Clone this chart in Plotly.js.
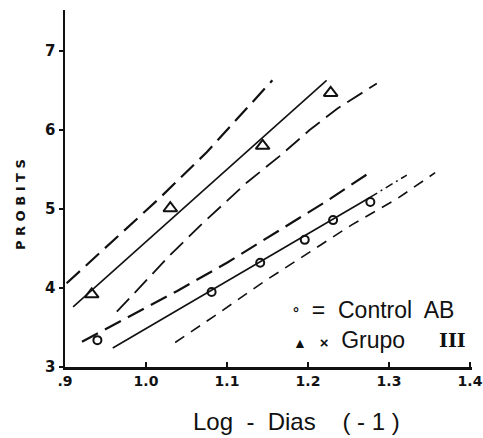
<!DOCTYPE html>
<html><head><meta charset="utf-8">
<script src="https://cdn.plot.ly/plotly-3.0.1.min.js"></script>
<style>html,body{margin:0;padding:0;background:#fff}#chart{width:483px;height:438px}</style>
</head><body><div id="chart"></div>
<script>
// Data points
const grupoX = [0.933, 1.030, 1.144, 1.228];
const grupoY = [3.92, 5.01, 5.80, 6.47];
const controlX = [0.940, 1.081, 1.141, 1.196, 1.231, 1.277];
const controlY = [3.34, 3.95, 4.32, 4.61, 4.86, 5.09];

// Grupo III fitted line and confidence limits
const grupoFitX = [0.910, 1.223];
const grupoFitY = [3.76, 6.63];
const grupoUpX = [0.902, 0.965, 1.017, 1.075, 1.116, 1.156];
const grupoUpY = [4.06, 4.65, 5.14, 5.72, 6.18, 6.63];
const grupoLoX = [0.964, 1.030, 1.070, 1.125, 1.165, 1.202, 1.236, 1.285];
const grupoLoY = [3.70, 4.42, 4.82, 5.34, 5.67, 6.00, 6.27, 6.59];

// Control AB fitted line and confidence limits
const controlFitX = [0.959, 1.277];
const controlFitY = [3.24, 5.15];
const controlExtX = [1.277, 1.322];
const controlExtY = [5.15, 5.43];
const controlUpX = [0.921, 0.993, 1.038, 1.100, 1.162, 1.223, 1.273];
const controlUpY = [3.32, 3.71, 3.96, 4.32, 4.71, 5.10, 5.44];
const controlLoX = [1.036, 1.088, 1.144, 1.200, 1.254, 1.310, 1.357];
const controlLoY = [3.31, 3.67, 4.07, 4.44, 4.80, 5.13, 5.46];

// Tick labels
const xTickVals = [0.9, 1.0, 1.1, 1.2, 1.3, 1.4];
const xTickText = ['.9', '1.0', '1.1', '1.2', '1.3', '1.4'];
const yTickVals = [3, 4, 5, 6, 7];
const yTickText = ['3', '4', '5', '6', '7'];

const black = '#111';
const longDash = '18px,8px';
const shortDash = '11px,8px';

function ln(x, y, dash, w) {
  return {x: x, y: y, mode: 'lines', type: 'scatter', hoverinfo: 'skip',
    line: {color: black, width: w || 1.8, dash: dash || 'solid'},
    showlegend: false};
}

const traces = [
  ln(grupoFitX, grupoFitY, 'solid', 1.6),
  ln(grupoUpX, grupoUpY, longDash, 2.2),
  ln(grupoLoX, grupoLoY, longDash, 1.8),
  ln(controlFitX, controlFitY, 'solid', 1.6),
  ln(controlExtX, controlExtY, '8px,4px,2px,4px', 1.5),
  ln(controlUpX, controlUpY, longDash, 2.2),
  ln(controlLoX, controlLoY, shortDash, 1.6),
  {x: grupoX, y: grupoY, mode: 'markers', type: 'scatter', name: 'Grupo III', showlegend: false,
    marker: {symbol: 'triangle-up-open', size: 12, color: black, line: {width: 2, color: black}}},
  {x: controlX, y: controlY, mode: 'markers', type: 'scatter', name: 'Control AB', showlegend: false,
    marker: {symbol: 'circle-open', size: 8, color: black, line: {width: 2, color: black}}}
];

const layout = {
  width: 483, height: 438,
  margin: {l: 65, r: 11, t: 10, b: 71},
  paper_bgcolor: '#fff', plot_bgcolor: '#fff',
  showlegend: false,
  font: {family: 'Liberation Sans, Arial, sans-serif', color: black},
  xaxis: {
    range: [0.9, 1.4025], showgrid: false, zeroline: false,
    showline: true, linecolor: black, linewidth: 2.5,
    ticks: 'inside', ticklen: 5, tickwidth: 2, tickcolor: black,
    tickvals: xTickVals, ticktext: xTickText,
    tickfont: {size: 14, family: 'DejaVu Sans, sans-serif', weight: 'bold'}
  },
  yaxis: {
    range: [3, 7.52], showgrid: false, zeroline: false,
    showline: true, linecolor: black, linewidth: 2.5,
    ticks: 'outside', ticklen: 4, tickwidth: 2, tickcolor: black,
    tickvals: yTickVals, ticktext: yTickText,
    tickfont: {size: 15, family: 'DejaVu Sans, sans-serif', weight: 'bold'}
  },
  annotations: [
    {xref: 'paper', yref: 'paper', x: 0.568, y: -0.154, xanchor: 'center', yanchor: 'middle',
      showarrow: false, text: 'Log  -  Dias    ( - 1 )',
      font: {size: 24, family: 'Liberation Sans, Arial, sans-serif', color: black}},
    {xref: 'paper', yref: 'paper', x: -0.108, y: 0.454, xanchor: 'center', yanchor: 'middle',
      showarrow: false, textangle: -90, text: '<b>P R O B I T S</b>',
      font: {size: 13, family: 'DejaVu Sans, sans-serif', color: black}},
    {xref: 'paper', yref: 'paper', x: 0.555, y: 0.160, xanchor: 'left', yanchor: 'middle',
      showarrow: false, text: '<span style="font-size:15px"><b>°</b></span>  =  Control  AB',
      font: {size: 23, family: 'Liberation Sans, Arial, sans-serif', color: black}},
    {xref: 'paper', yref: 'paper', x: 0.555, y: 0.0756, xanchor: 'left', yanchor: 'middle',
      showarrow: false, text: '<span style="font-size:14px">▲</span>  <span style="font-size:15px"><b>×</b></span>  Grupo',
      font: {size: 23, family: 'Liberation Sans, Arial, sans-serif', color: black}},
    {xref: 'paper', yref: 'paper', x: 0.915, y: 0.0756, xanchor: 'left', yanchor: 'middle',
      showarrow: false, text: '<b>III</b>',
      font: {size: 19, family: 'DejaVu Serif, serif', color: black}}
  ]
};

Plotly.newPlot('chart', traces, layout, {staticPlot: true, displayModeBar: false});
</script>
</body></html>
